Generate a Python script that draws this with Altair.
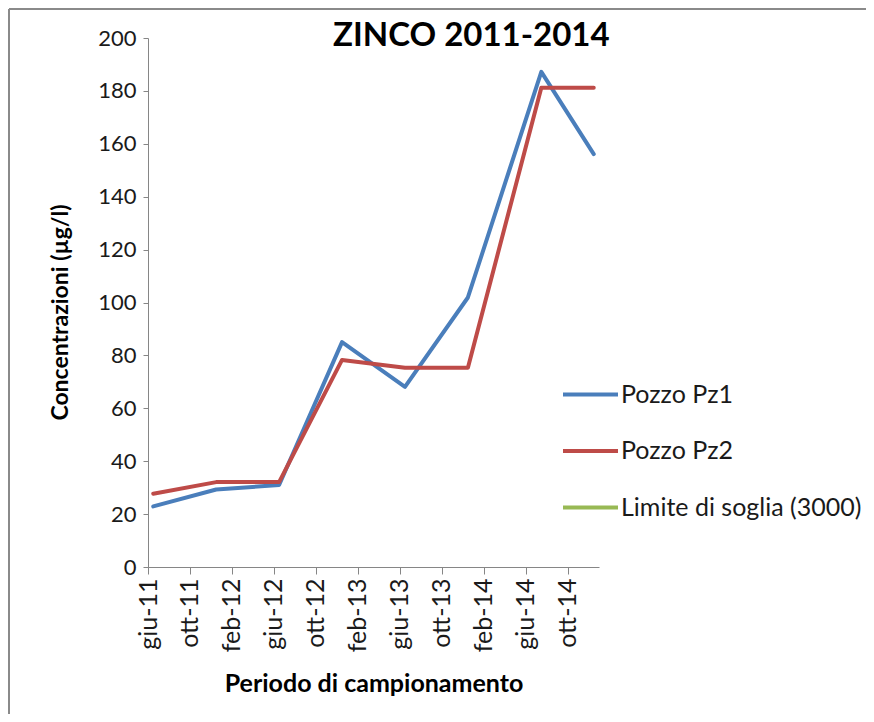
import altair as alt
import pandas as pd

# ---- data ----
dates = ["2011-06", "2011-12", "2012-06", "2012-12", "2013-06", "2013-12", "2014-07", "2014-12"]
pz1 = [22.9, 29.3, 31.0, 85.0, 68.1, 101.9, 187.2, 156.1]
pz2 = [27.7, 32.1, 32.1, 78.3, 75.3, 75.3, 181.2, 181.2]
soglia = 3000
series_names = ["Pozzo Pz1", "Pozzo Pz2", "Limite di soglia (3000)"]
series_colors = ["#4a7ebb", "#be4b48", "#98b954"]
tick_labels = ["giu-11", "ott-11", "feb-12", "giu-12", "ott-12", "feb-13",
               "giu-13", "ott-13", "feb-14", "giu-14", "ott-14"]
y_ticks = [0, 20, 40, 60, 80, 100, 120, 140, 160, 180, 200]

FONT = "Lato"


def month_pos(d):
    y, m = d.split("-")
    return (int(y) - 2011) * 12 + (int(m) - 6) + 0.5  # points sit mid-month


rows = []
for d, a, b in zip(dates, pz1, pz2):
    rows.append({"m": month_pos(d), "v": a, "s": series_names[0]})
    rows.append({"m": month_pos(d), "v": b, "s": series_names[1]})
for d in [dates[0], dates[-1]]:
    rows.append({"m": month_pos(d), "v": soglia, "s": series_names[2]})
df = pd.DataFrame(rows)

tick_vals = [i * 4 for i in range(len(tick_labels))]
label_expr = "[" + ",".join("'%s'" % t for t in tick_labels) + "][datum.value/4]"

x_enc = alt.X(
    "m:Q",
    scale=alt.Scale(domain=[0, 43], nice=False, zero=False),
    axis=alt.Axis(
        values=tick_vals,
        labelExpr=label_expr,
        labelAngle=-90,
        labelAlign="right",
        labelBaseline="middle",
        labelFontSize=25,
        labelColor="#1a1a1a",
        labelPadding=4,
        tickSize=7,
        tickColor="#868686",
        domainColor="#868686",
        grid=False,
        title="Periodo di campionamento",
        titleFontSize=25,
        titleFontWeight="bold",
        titleColor="#000000",
        titlePadding=20,
    ),
)
y_enc = alt.Y(
    "v:Q",
    scale=alt.Scale(domain=[0, 200], nice=False),
    axis=alt.Axis(
        values=y_ticks,
        labelFontSize=22,
        labelColor="#1a1a1a",
        labelPadding=7,
        tickSize=5,
        tickColor="#868686",
        domainColor="#868686",
        grid=False,
        title="Concentrazioni  (µg/l)",
        titleFontSize=23,
        titleFontWeight="bold",
        titleColor="#000000",
        titlePadding=25,
        titleY=274,
    ),
)

lines = alt.Chart(df).mark_line(
    strokeWidth=4, strokeCap="round", strokeJoin="round", clip=True
).encode(
    x=x_enc,
    y=y_enc,
    color=alt.Color(
        "s:N",
        scale=alt.Scale(domain=series_names, range=series_colors),
        sort=series_names,
        legend=alt.Legend(
            title=None,
            orient="none",
            legendX=413,
            legendY=327,
            symbolType="stroke",
            symbolSize=3025,
            symbolStrokeWidth=4,
            labelFontSize=25,
            labelColor="#1a1a1a",
            labelOffset=1,
            labelLimit=0,
            rowPadding=13.5,
            padding=0,
        ),
    ),
)

border_top = alt.Chart(df).mark_rule(color="#8a8a8a", strokeWidth=2).encode(
    x=alt.value(-139), x2=alt.value(720), y=alt.value(-29)
)
border_left = alt.Chart(df).mark_rule(color="#8a8a8a", strokeWidth=2).encode(
    x=alt.value(-139), y=alt.value(-29), y2=alt.value(676)
)

chart = (
    alt.layer(border_top, border_left, lines)
    .properties(
        width=451,
        height=529,
        autosize=alt.AutoSizeParams(type="none"),
        padding={"left": 140, "top": 30, "right": 267, "bottom": 147},
        title=alt.TitleParams(
            "ZINCO 2011-2014",
            anchor="start",
            frame="group",
            dx=185,
            dy=71,
            offset=0,
            baseline="alphabetic",
            fontSize=33,
            fontWeight="bold",
            color="#000000",
            font=FONT,
        ),
    )
    .configure(font=FONT)
    .configure_view(stroke=None)
)

chart.save("out.html", embed_options={"renderer": "svg", "actions": False})
